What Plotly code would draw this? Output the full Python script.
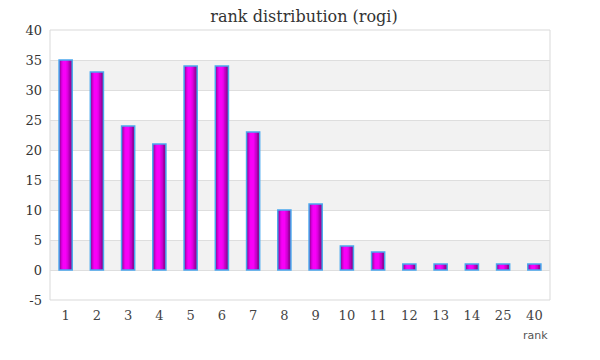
import plotly.graph_objects as go

categories = ["1", "2", "3", "4", "5", "6", "7", "8", "9", "10", "11", "12", "13", "14", "25", "40"]
counts = [35, 33, 24, 21, 34, 34, 23, 10, 11, 4, 3, 1, 1, 1, 1, 1]
y_ticks = [-5, 0, 5, 10, 15, 20, 25, 30, 35, 40]

SERIF = "Georgia, 'DejaVu Serif', serif"
SANS = "Verdana, 'DejaVu Sans', sans-serif"

fig = go.Figure()

# gradient simulated by stacked overlay layers (outer dark -> inner bright)
layers = [
    (0.42, 0.0, "#7d087f"),
    (0.36, -0.01, "#a200a6"),
    (0.28, -0.02, "#c800cc"),
    (0.20, -0.03, "#e400e6"),
    (0.12, -0.035, "#f800f8"),
]
for w, shift, col in layers:
    fig.add_trace(go.Bar(
        x=categories, y=counts, width=w, offset=-w / 2 + shift,
        marker=dict(color=col, line=dict(width=0)),
        hoverinfo="skip", showlegend=False,
    ))
fig.add_trace(go.Bar(
    x=categories, y=counts, width=0.42, offset=-0.21,
    marker=dict(color="rgba(0,0,0,0)", line=dict(color="#4aa8ee", width=1.5)),
    showlegend=False,
))

shapes = []
for b in range(0, 40, 10):
    shapes.append(dict(type="rect", xref="paper", yref="y", x0=0, x1=1, y0=b, y1=b + 5,
                       fillcolor="#f2f2f2", line=dict(width=0), layer="below"))
# frame
shapes.append(dict(type="rect", xref="paper", yref="paper", x0=0, x1=1, y0=0, y1=1,
                   line=dict(color="#d9d9d9", width=1), fillcolor="rgba(0,0,0,0)", layer="below"))

fig.update_layout(
    width=592, height=352,
    margin=dict(l=42, r=50, t=22, b=60),
    paper_bgcolor="white", plot_bgcolor="white",
    barmode="overlay",
    title=dict(text="rank distribution (rogi)", x=0.5, xanchor="center", y=0.977, yanchor="middle",
               font=dict(family=SERIF, size=16, color="#333333")),
    shapes=shapes,
    xaxis=dict(type="category", categoryorder="array", categoryarray=categories,
               showgrid=False, zeroline=False, showline=False, ticklabelstandoff=6,
               tickfont=dict(family=SERIF, size=13, color="#444444"), ticks="", ticklen=0),
    yaxis=dict(range=[-5, 40], tickvals=y_ticks, ticktext=[str(v) for v in y_ticks],
               showgrid=True, gridcolor="#dedede", gridwidth=1, zeroline=True, zerolinecolor="#dedede",
               zerolinewidth=1, showline=False, ticklabelstandoff=7,
               tickfont=dict(family=SERIF, size=13, color="#333333"), ticks="", ticklen=0),
    annotations=[dict(text="rank", xref="paper", yref="paper", x=1.0, y=-0.13, xanchor="right",
                      yanchor="middle", showarrow=False,
                      font=dict(family=SANS, size=11, color="#555555"))],
)

fig.write_html("out.html")
